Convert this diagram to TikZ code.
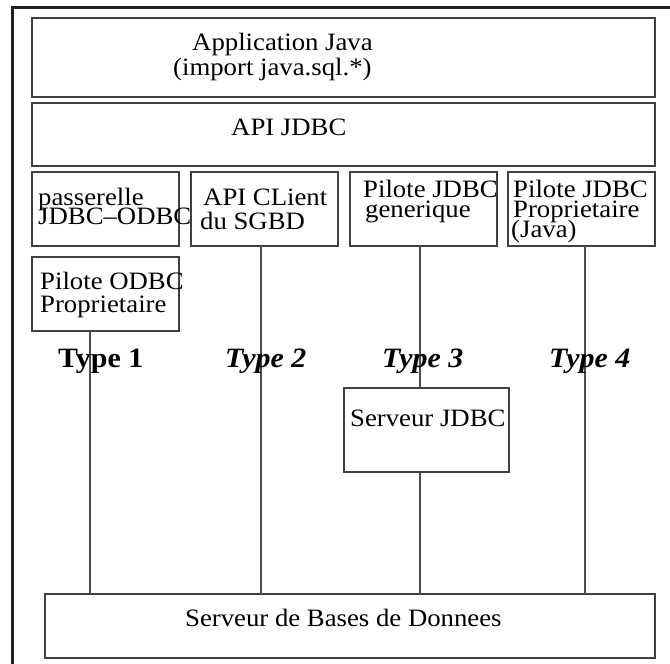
\documentclass[tikz,border=0pt]{standalone}
\usepackage{fontspec}
\setmainfont{Liberation Serif}[FakeStretch=1.07]
\newcommand\linestack[2]{\vtop{\baselineskip=#1\lineskiplimit=-100pt\lineskip=0pt\relax #2}}
\begin{document}
\begin{tikzpicture}[x=1pt,y=-1pt,
  frame/.style={line width=3pt,draw=black!88},
  boxshape/.style={draw=black!75,line width=1.2pt},
  link/.style={draw=black!70,line width=1.1pt},
  txt/.style={anchor=base west,inner sep=0pt,font=\fontsize{25pt}{25pt}\selectfont},
  typelbl/.style={anchor=base west,inner sep=0pt,font=\fontsize{28pt}{28pt}\selectfont\bfseries}]
\useasboundingbox (0,0) rectangle (670,664);
\fill[white] (0,0) rectangle (670,664);
% outer frame
\draw[frame] (12.5,664) -- (12.5,7) -- (670,7);
% boxes
\path[boxshape] (32,18) rectangle (655,97);
\path[boxshape] (32,103) rectangle (655,166);
\path[boxshape] (32,172) rectangle (179,246);
\path[boxshape] (191,172) rectangle (338,246);
\path[boxshape] (350,172) rectangle (497,246);
\path[boxshape] (508,172) rectangle (655,246);
\path[boxshape] (32,257) rectangle (179,331);
\path[boxshape] (344,388) rectangle (509,472);
\path[boxshape] (45,594) rectangle (655,658);
% named anchors for connectors
\coordinate (odbcS) at (90,331);
\coordinate (b2S) at (261,246);
\coordinate (b3S) at (420,246);
\coordinate (b4S) at (585,246);
\coordinate (sjN) at (420,388);
\coordinate (sjS) at (420,472);
\coordinate (db1) at (90,594);
\coordinate (db2) at (261,594);
\coordinate (db3) at (420,594);
\coordinate (db4) at (585,594);
\draw[link] (odbcS) -- (db1);
\draw[link] (b2S) -- (db2);
\draw[link] (b3S) -- (sjN);
\draw[link] (sjS) -- (db3);
\draw[link] (b4S) -- (db4);
% texts
\node[txt] (app) at (173,50) {\linestack{25.5pt}{\hbox{\kern19pt Application Java}\hbox{(import java.sql.*)}}};
\node[txt] (api) at (231,135) {API JDBC};
\node[txt] (pass) at (38,205) {\linestack{19pt}{\hbox{passerelle}\hbox{JDBC\textendash ODBC}}};
\node[txt] (cli) at (200,205) {\linestack{24pt}{\hbox{\kern3pt API CLient}\hbox{du SGBD}}};
\node[txt] (gen) at (363,197) {\linestack{20.5pt}{\hbox{Pilote JDBC}\hbox{\kern2pt generique}}};
\node[txt] (prop) at (511,197) {\linestack{20pt}{\hbox{\kern2pt Pilote JDBC}\hbox{\kern2pt Proprietaire}\hbox{(Java)}}};
\node[txt] (odbc) at (40,289) {\linestack{23pt}{\hbox{Pilote ODBC}\hbox{Proprietaire}}};
\node[typelbl] (ty1) at (58,367) {Type 1};
\node[typelbl] (ty2) at (225,367) {\itshape Type 2};
\node[typelbl] (ty3) at (382,367) {\itshape Type 3};
\node[typelbl] (ty4) at (549,367) {\itshape Type 4};
\node[txt] (sjdbc) at (350,426) {Serveur JDBC};
\node[txt] (db) at (185,626) {Serveur de Bases de Donnees};
\end{tikzpicture}
\end{document}
